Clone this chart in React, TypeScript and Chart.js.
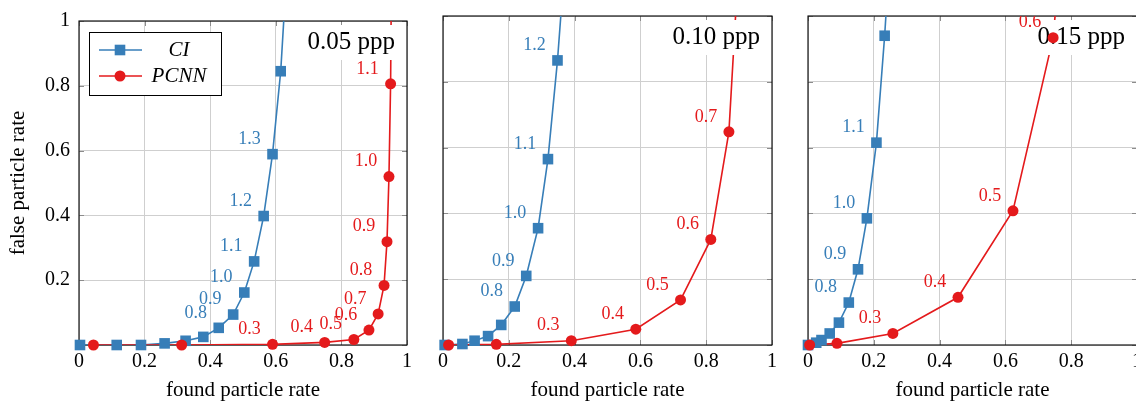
import React, { useEffect, useRef } from 'react';
import { Chart, registerables } from 'chart.js';

Chart.register(...registerables);

const BLUE = '#377eb8';
const RED = '#e41a1c';
const FONT = '"Liberation Serif", "Times New Roman", serif';

const panelTitles = ['0.05 ppp', '0.10 ppp', '0.15 ppp'];
const seriesNames = ['CI', 'PCNN'];
const xAxisTitle = 'found particle rate';
const yAxisTitle = 'false particle rate';
const tickValues = [0, 0.2, 0.4, 0.6, 0.8, 1];
const xTickLabels = ['0', '0.2', '0.4', '0.6', '0.8', '1'];
const yTickLabels = ['', '0.2', '0.4', '0.6', '0.8', '1'];

// 0.05 ppp
const ci005X = [0.003, 0.115, 0.189, 0.261, 0.325, 0.379, 0.426, 0.47, 0.504, 0.534, 0.563, 0.59, 0.615, 0.636];
const ci005Y = [0, 0, 0, 0.005, 0.013, 0.025, 0.053, 0.094, 0.162, 0.258, 0.398, 0.589, 0.845, 1.2];
const ci005L = ['', '', '', '', '', '', '0.8', '0.9', '1.0', '1.1', '1.2', '1.3', '', ''];
const pcnn005X = [0.044, 0.313, 0.59, 0.749, 0.838, 0.884, 0.912, 0.93, 0.939, 0.945, 0.95, 0.953];
const pcnn005Y = [0, 0, 0.002, 0.008, 0.017, 0.046, 0.096, 0.184, 0.319, 0.52, 0.806, 1.2];
const pcnn005L = ['', '', '0.3', '0.4', '0.5', '0.6', '0.7', '0.8', '0.9', '1.0', '1.1', ''];

// 0.10 ppp
const ci010X = [0.005, 0.059, 0.096, 0.137, 0.177, 0.218, 0.253, 0.289, 0.319, 0.348, 0.373];
const ci010Y = [0, 0.003, 0.013, 0.027, 0.061, 0.117, 0.21, 0.355, 0.565, 0.865, 1.2];
const ci010L = ['', '', '', '', '', '0.8', '0.9', '1.0', '1.1', '1.2', ''];
const pcnn010X = [0.017, 0.162, 0.39, 0.586, 0.722, 0.814, 0.869, 0.895];
const pcnn010Y = [0, 0.002, 0.013, 0.048, 0.137, 0.321, 0.648, 1.1];
const pcnn010L = ['', '', '0.3', '0.4', '0.5', '0.6', '0.7', ''];

// 0.15 ppp
const ci015X = [0.0, 0.025, 0.041, 0.066, 0.094, 0.124, 0.152, 0.179, 0.208, 0.233, 0.243];
const ci015Y = [0, 0.007, 0.015, 0.035, 0.068, 0.129, 0.23, 0.385, 0.615, 0.94, 1.1];
const ci015L = ['', '', '', '', '', '0.8', '0.9', '1.0', '1.1', '', ''];
const pcnn015X = [0.005, 0.088, 0.258, 0.456, 0.623, 0.745, 0.76];
const pcnn015Y = [0, 0.005, 0.035, 0.145, 0.408, 0.934, 1.1];
const pcnn015L = ['', '', '0.3', '0.4', '0.5', '0.6', ''];

const panels = [
  { title: panelTitles[0], ciX: ci005X, ciY: ci005Y, ciL: ci005L, pX: pcnn005X, pY: pcnn005Y, pL: pcnn005L,
    left: 0, width: 420, yWidth: 79, padRight: 13, showY: true, legend: true },
  { title: panelTitles[1], ciX: ci010X, ciY: ci010Y, ciL: ci010L, pX: pcnn010X, pY: pcnn010Y, pL: pcnn010L,
    left: 420, width: 370, yWidth: 23, padRight: 18, showY: false, legend: false },
  { title: panelTitles[2], ciX: ci015X, ciY: ci015Y, ciL: ci015L, pX: pcnn015X, pY: pcnn015Y, pL: pcnn015L,
    left: 785, width: 370, yWidth: 23, padRight: 18, showY: false, legend: false },
];

const pts = (xs: number[], ys: number[]) => xs.map((x, i) => ({ x, y: ys[i] }));

function makeDecor(cfg: any) {
  return {
    id: 'panelDecor',
    beforeDatasetsDraw(chart: any) {
      const { ctx, chartArea: a, scales } = chart;
      ctx.save();
      ctx.strokeStyle = '#8c8c8c';
      ctx.lineWidth = 1;
      const L = 5;
      tickValues.forEach((v) => {
        const x = Math.round(scales.x.getPixelForValue(v)) + 0.5;
        const y = Math.round(scales.y.getPixelForValue(v)) + 0.5;
        ctx.beginPath();
        ctx.moveTo(x, a.bottom); ctx.lineTo(x, a.bottom - L);
        ctx.moveTo(x, a.top); ctx.lineTo(x, a.top + L);
        ctx.moveTo(a.left, y); ctx.lineTo(a.left + L, y);
        ctx.moveTo(a.right, y); ctx.lineTo(a.right - L, y);
        ctx.stroke();
      });
      ctx.strokeStyle = '#000';
      ctx.lineWidth = 1.1;
      ctx.strokeRect(a.left, a.top, a.right - a.left, a.bottom - a.top);
      ctx.restore();
    },
    beforeDatasetDraw(chart: any, args: any) {
      if (args.index !== 2) return;
      const { ctx, chartArea: a } = chart;
      ctx.save();
      ctx.font = `25px ${FONT}`;
      const w = ctx.measureText(cfg.title).width;
      const tr = a.right - 12;
      ctx.fillStyle = '#fff';
      ctx.fillRect(tr - w - 6, a.top + 4, w + 12, 35);
      ctx.fillStyle = '#000';
      ctx.textAlign = 'right';
      ctx.textBaseline = 'alphabetic';
      ctx.fillText(cfg.title, tr, a.top + 28);
      ctx.restore();
    },
    afterDatasetsDraw(chart: any) {
      const { ctx, chartArea: a } = chart;
      ctx.save();
      ctx.beginPath();
      ctx.rect(0, a.top, chart.width, chart.height);
      ctx.clip();
      ctx.font = `18px ${FONT}`;
      ctx.textAlign = 'center';
      ctx.textBaseline = 'middle';
      [[2, cfg.ciL, BLUE], [3, cfg.pL, RED]].forEach(([idx, labels, color]: any) => {
        const meta = chart.getDatasetMeta(idx);
        ctx.fillStyle = color;
        meta.data.forEach((el: any, i: number) => {
          if (labels[i]) ctx.fillText(labels[i], el.x - 23, el.y - 15);
        });
      });
      ctx.restore();

      if (cfg.legend) {
        ctx.save();
        const lx = a.left + 10, ly = a.top + 11, lw = 132, lh = 63;
        ctx.fillStyle = '#fff';
        ctx.fillRect(lx, ly, lw, lh);
        ctx.strokeStyle = '#000';
        ctx.lineWidth = 1;
        ctx.strokeRect(lx + 0.5, ly + 0.5, lw, lh);
        const rows = [ly + 18, ly + 44];
        [BLUE, RED].forEach((c, i) => {
          const y = rows[i];
          ctx.strokeStyle = c;
          ctx.lineWidth = 1.6;
          ctx.beginPath();
          ctx.moveTo(lx + 10, y); ctx.lineTo(lx + 53, y);
          ctx.stroke();
          ctx.fillStyle = c;
          if (i === 0) {
            ctx.fillRect(lx + 31 - 5.3, y - 5.3, 10.6, 10.6);
          } else {
            ctx.beginPath();
            ctx.arc(lx + 31, y, 5.5, 0, Math.PI * 2);
            ctx.fill();
          }
          ctx.fillStyle = '#000';
          ctx.font = `italic 21px ${FONT}`;
          ctx.textAlign = 'center';
          ctx.textBaseline = 'middle';
          ctx.fillText(seriesNames[i], lx + 90, y);
        });
        ctx.restore();
      }
    },
  };
}

function Panel({ cfg }: { cfg: any }) {
  const ref = useRef<HTMLCanvasElement>(null);
  useEffect(() => {
    const clip = { left: 12, right: 12, top: 0, bottom: 12 };
    const chart = new Chart(ref.current as HTMLCanvasElement, {
      type: 'scatter',
      data: {
        datasets: [
          { label: seriesNames[0], data: pts(cfg.ciX, cfg.ciY), showLine: true, borderColor: BLUE, borderWidth: 1.6,
            pointRadius: 0, order: 3 } as any,
          { label: seriesNames[1], data: pts(cfg.pX, cfg.pY), showLine: true, borderColor: RED, borderWidth: 1.6,
            pointRadius: 0, order: 2 } as any,
          { label: seriesNames[0], data: pts(cfg.ciX, cfg.ciY), showLine: false, pointStyle: 'rect', pointRadius: 7.5,
            backgroundColor: BLUE, borderColor: BLUE, pointBorderWidth: 0, borderWidth: 0, order: 1, clip } as any,
          { label: seriesNames[1], data: pts(cfg.pX, cfg.pY), showLine: false, pointStyle: 'circle', pointRadius: 5.5,
            backgroundColor: RED, borderColor: RED, pointBorderWidth: 0, borderWidth: 0, order: 0, clip } as any,
        ],
      },
      options: {
        animation: false,
        responsive: false,
        events: [],
        layout: { padding: { left: 0, top: 16, right: cfg.padRight, bottom: 0 } },
        plugins: { legend: { display: false }, tooltip: { enabled: false } },
        scales: {
          x: {
            type: 'linear', min: 0, max: 1,
            afterBuildTicks: (axis: any) => { axis.ticks = tickValues.map((v) => ({ value: v })); },
            afterFit: (s: any) => { s.height = 57; },
            ticks: { callback: (_v: any, i: number) => xTickLabels[i], font: { family: FONT, size: 20 }, color: '#000',
              padding: 5, maxRotation: 0, autoSkip: false },
            grid: { color: '#cfcfcf', lineWidth: 1, drawTicks: false },
            border: { display: false },
            title: { display: true, text: xAxisTitle, color: '#000', font: { family: FONT, size: 21, lineHeight: 1.1 },
              padding: { top: 0, bottom: 0 } },
          },
          y: {
            type: 'linear', min: 0, max: 1,
            afterBuildTicks: (axis: any) => { axis.ticks = tickValues.map((v) => ({ value: v })); },
            afterFit: (s: any) => { s.width = cfg.yWidth; },
            ticks: { display: cfg.showY, callback: (_v: any, i: number) => yTickLabels[i], font: { family: FONT, size: 20 },
              color: '#000', padding: 9 },
            grid: { color: '#cfcfcf', lineWidth: 1, drawTicks: false },
            border: { display: false },
            title: { display: cfg.showY, text: yAxisTitle, color: '#000', font: { family: FONT, size: 21 },
              padding: { top: 6, bottom: 0 } },
          },
        },
      } as any,
      plugins: [makeDecor(cfg)],
    });
    return () => chart.destroy();
  }, []);
  return (
    <canvas ref={ref} width={cfg.width} height={402}
      style={{ position: 'absolute', left: cfg.left, top: 0, width: cfg.width, height: 402 }} />
  );
}

export default function App() {
  return (
    <div style={{ position: 'fixed', left: 0, top: 0, width: 1136, height: 402, overflow: 'hidden', background: '#fff' }}>
      {panels.map((p, i) => <Panel key={i} cfg={p} />)}
    </div>
  );
}
